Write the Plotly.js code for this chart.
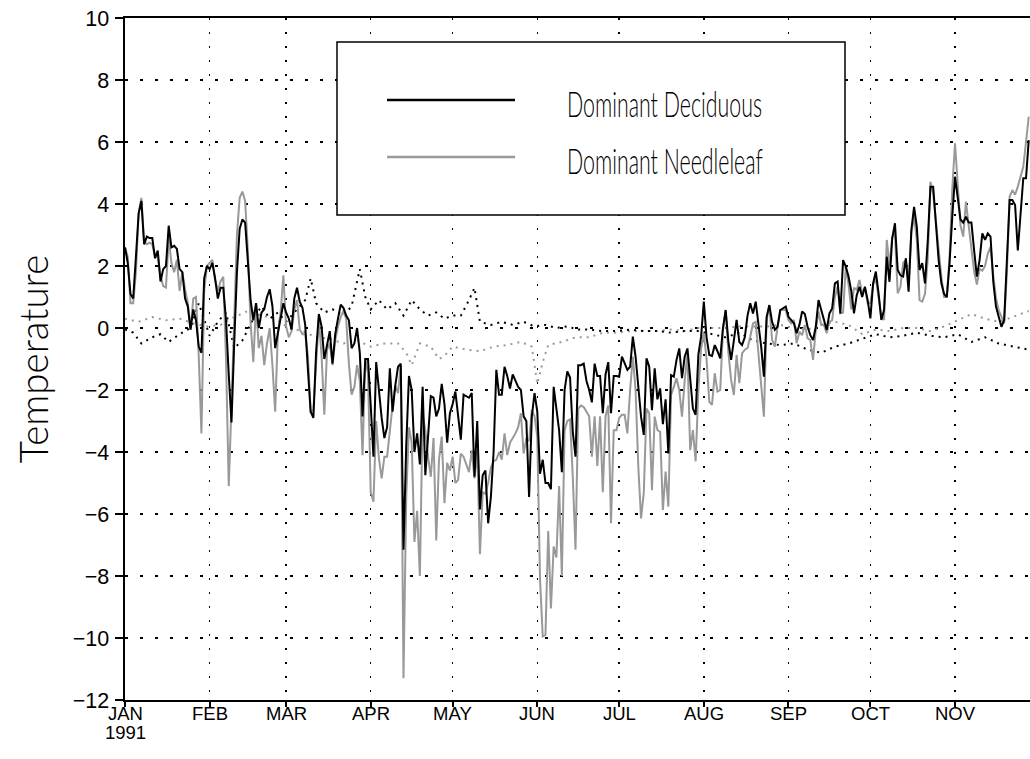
<!DOCTYPE html>
<html>
<head>
<meta charset="utf-8">
<script src="https://cdn.plot.ly/plotly-3.0.1.min.js"></script>
<style>
  html, body { margin: 0; padding: 0; background: #ffffff; }
  #chart { width: 1030px; height: 759px; }
</style>
</head>
<body>
<div id="chart"></div>
<script>
// Daily series, one value per day starting 1 Jan 1991
const deciduous = [
  2.6, 2.1, 1.1, 0.95, 2.3, 3.7, 4.1, 2.7, 2.95, 2.9,
  2.9, 2.25, 2.5, 1.5, 1.9, 2.0, 3.3, 2.6, 2.65, 2.55,
  1.9, 1.8, 0.95, 0.7, -0.05, 0.6, 0.25, -0.6, -0.8, 1.6,
  2.0, 1.9, 2.1, 1.6, 0.95, 1.3, 1.3, 0.25, -1.5, -3.05,
  -0.5, 1.8, 3.2, 3.5, 3.4, 2.3, 0.9, 0.25, 0.8, 0.0,
  0.5, 0.6, 1.0, 1.25, 0.7, -0.65, -0.2, 0.25, 0.8, 0.5,
  0.3, -0.05, 0.95, 1.3, 0.85, 0.65, 0.1, -1.35, -2.7, -2.9,
  -0.75, 0.45, 0.05, -1.0, -0.5, -0.1, -1.15, -0.2, 0.3, 0.75,
  0.65, 0.4, 0.25, -0.65, -0.5, 0.0, -0.8, -2.85, -1.0, -1.0,
  -2.5, -4.15, -1.1, -2.0, -2.9, -3.55, -3.2, -1.3, -2.7, -1.85,
  -1.25, -1.15, -7.15, -3.8, -1.55, -2.0, -4.0, -3.4, -4.4, -1.9,
  -4.75, -3.5, -2.2, -2.25, -2.85, -2.6, -1.8, -2.45, -3.7, -2.75,
  -2.45, -2.05, -2.9, -3.6, -2.15, -2.2, -2.25, -2.1, -4.8, -3.0,
  -5.85, -4.75, -4.6, -6.3, -5.45, -4.0, -1.35, -2.15, -2.15, -1.25,
  -1.55, -1.95, -1.5, -1.7, -1.9, -2.0, -2.85, -3.0, -5.45, -2.85,
  -2.1, -2.7, -4.7, -4.25, -5.0, -5.0, -5.2, -1.9, -2.55, -3.3,
  -4.65, -2.0, -1.4, -1.6, -3.35, -4.15, -1.2, -1.2, -1.15, -1.7,
  -2.0, -2.4, -1.15, -1.55, -1.55, -2.75, -1.5, -1.1, -2.75, -1.55,
  -1.55, -1.57, -0.92, -1.14, -1.35, -1.25, -0.28, -0.92, -2.0, -2.86,
  -3.45, -0.98, -1.25, -2.65, -1.3, -2.3, -1.95, -3.1, -2.3, -4.05,
  -1.52, -1.57, -1.03, -0.66, -1.62, -0.92, -0.66, -1.6, -2.6, -2.8,
  -0.86, -0.28, 0.85, -0.3, -0.87, -0.9, -0.55, -0.75, -0.98, 0.0,
  0.58, -0.45, -1.03, -0.4, 0.26, -0.45, -0.55, -0.3, 0.4, 0.8,
  0.47, 0.85, 0.1, -0.6, -1.57, 0.36, 0.74, 0.2, -0.06, 0.04,
  0.58, 0.65, 0.69, 0.36, 0.26, 0.15, -0.17, 0.1, 0.53, 0.45,
  0.04, -0.23, -0.39, 0.04, 0.9, 0.58, 0.2, -0.06, 0.47, 0.63,
  1.44, 1.5, 0.47, 2.19, 1.98, 1.66, 1.2, 0.47, 1.06, 1.33,
  1.0, 1.33, 0.9, 0.31, 1.44, 1.82, 1.12, 0.26, 0.58, 2.3,
  1.49, 2.89, 3.38, 1.87, 1.7, 1.66, 2.25, 1.17, 3.16, 3.91,
  3.27, 1.87, 2.09, 1.44, 2.8, 4.56, 4.56, 3.48, 2.19, 1.44,
  1.1, 1.0, 2.1, 3.6, 4.88, 4.2, 3.5, 3.4, 3.59, 3.4,
  3.4, 2.5, 1.66, 2.2, 3.05, 2.84, 3.05, 2.95, 1.5, 0.69,
  0.37, 0.04, 0.26, 2.3, 4.13, 4.13, 3.97, 2.5, 3.7, 4.83,
  4.83, 6.06
];

const needleleaf = [
  2.6, 2.3, 0.8, 0.8, 1.8, 3.7, 4.2, 2.8, 2.7, 2.75,
  2.7, 2.3, 2.3, 1.7, 1.35, 1.3, 2.9, 2.1, 1.8, 2.2,
  1.2, 1.8, 1.25, 0.8, -0.05, 0.95, 1.0, -0.9, -3.4, 1.2,
  2.0, 2.1, 2.2, 1.55, 1.2, 1.5, 1.65, -1.0, -5.1, -2.5,
  0.35, 3.0, 4.2, 4.4, 4.1, 2.5, 0.15, -1.1, 0.8, -0.65,
  -0.25, -1.2, -0.5, 0.0, -1.2, -2.7, -0.15, 0.5, 1.7, 0.05,
  -0.3, -0.1, 0.6, 0.9, -0.05, -0.2, -0.2, -0.9, -2.7, -2.65,
  -1.15, 0.3, -0.9, -2.8, -0.7, -0.5, -1.2, -0.4, 0.05, 0.35,
  0.55, 0.3, -1.15, -2.15, -1.9, -1.2, -1.7, -4.1, -1.0, -1.45,
  -5.3, -5.6, -3.0, -4.2, -4.85, -4.15, -4.15, -3.3, -2.5, -1.85,
  -2.1, -1.2, -11.3, -5.45, -3.2, -3.7, -6.9, -5.9, -8.0, -2.75,
  -3.3, -4.15, -4.8, -3.55, -6.85, -4.25, -3.5, -5.65, -4.35, -4.6,
  -4.15, -5.0, -4.9, -4.05, -4.15, -4.4, -4.65, -3.95, -4.85, -3.95,
  -7.3, -5.3, -5.35, -5.0, -4.5, -4.3, -4.25, -4.0, -4.25, -3.4,
  -4.1, -3.7, -3.55, -3.4, -3.2, -2.75, -4.05, -3.55, -3.65, -2.65,
  -2.85, -3.5, -8.1, -9.95, -9.9, -6.55, -9.05, -7.05, -7.4, -5.1,
  -8.0, -3.3, -3.0, -2.95, -4.8, -7.15, -2.6, -2.5, -2.55, -2.7,
  -2.85, -4.15, -2.85, -4.45, -2.85, -5.3, -2.85, -2.5, -6.3, -3.3,
  -3.3, -2.9, -2.8, -2.8, -3.4, -2.0, -0.92, -2.0, -4.47, -6.14,
  -5.33, -2.6, -2.75, -5.23, -2.86, -3.29, -3.35, -5.87, -4.63, -5.76,
  -2.16, -1.9, -1.62, -2.0, -2.86, -1.68, -0.82, -3.94, -3.29, -4.3,
  -2.0, -0.66, -0.17, -1.0, -2.38, -2.48, -1.46, -2.05, -2.0, -0.06,
  0.58, -0.8, -1.68, -2.16, -0.87, -1.78, -0.82, -0.7, -0.65, -0.28,
  0.15, 0.2, -0.8, -1.8, -2.86, 0.25, 0.74, -0.38, -0.6, 0.04,
  0.58, 0.58, 0.58, 0.26, 0.15, 0.26, -0.49, -0.12, -0.23, 0.1,
  -0.33, -0.39, -1.03, -0.06, 0.53, 0.1, 0.1, -0.17, 0.2, 0.25,
  1.0, 1.33, 0.47, 0.5, 1.98, 1.4, 0.6, 1.3, 1.23, 1.55,
  1.12, 1.3, 0.8, 0.8, 1.39, 1.6, 1.0, 0.37, 0.26, 2.84,
  2.0, 2.95, 3.05, 1.12, 1.33, 2.1, 2.2, 1.44, 3.05, 3.6,
  2.84, 0.9, 0.85, 1.1, 2.2, 4.72, 4.34, 3.4, 2.4, 1.65,
  1.0, 1.0, 2.3, 4.5, 5.96, 4.6, 3.3, 2.95, 4.08, 3.3,
  2.5, 1.82, 1.4, 1.9, 1.85, 2.0, 2.4, 2.62, 1.7, 0.96,
  0.58, 0.37, 0.15, 1.8, 4.24, 4.45, 4.3, 4.56, 4.9, 5.2,
  6.0, 6.82
];

// Dotted companion curves (day of year, value)
const dottedBlackDays = [0, 3, 6, 10, 13, 16, 20, 24, 27, 29, 31, 34, 37, 40, 43, 47, 50, 53, 56, 59,
  62, 66, 68, 70, 73, 76, 80, 83, 86, 88, 90, 93, 96, 99, 102, 105, 108, 111, 114, 117,
  120, 123, 126, 128, 130, 134, 138, 142, 146, 150, 154, 158, 162, 166, 170, 175, 180, 185, 190, 195,
  200, 205, 210, 215, 220, 225, 230, 235, 240, 245, 250, 255, 260, 265, 270, 275, 280, 285, 290, 295,
  300, 305, 310, 315, 320, 325, 331];
const dottedBlackVals = [-0.05, -0.15, -0.5, -0.3, -0.2, -0.45, -0.2, 0.0, 0.8, 0.3, -0.25, 0.2, 0.5, -0.65, -0.4, 0.3, 0.7, 0.3, 0.5, 0.2,
  0.5, 0.9, 1.6, 0.8, 0.5, 0.6, 0.4, 0.7, 1.9, 1.0, 0.6, 0.9, 0.6, 0.8, 0.4, 0.9, 0.6, 0.4, 0.5, 0.3,
  0.4, 0.4, 0.9, 1.3, 0.2, 0.1, 0.2, 0.1, 0.2, 0.05, 0.1, 0.0, 0.05, -0.05, -0.05, -0.1, -0.1, -0.05, -0.1, -0.1,
  -0.15, -0.1, -0.1, -0.2, -0.3, -0.15, -0.4, -0.5, -0.55, -0.5, -0.7, -0.8, -0.6, -0.5, -0.35, -0.2, -0.3, -0.25, -0.15, -0.25,
  -0.3, -0.2, -0.45, -0.3, -0.5, -0.6, -0.7];

const dottedGrayDays = [0, 5, 10, 15, 20, 25, 30, 35, 40, 45, 50, 55, 60, 65, 70, 75, 80, 85, 90, 95,
  100, 103, 105, 108, 112, 115, 117, 120, 125, 130, 135, 140, 145, 149, 151, 153, 155, 160, 165, 170,
  175, 180, 185, 190, 195, 200, 205, 210, 215, 220, 225, 230, 235, 240, 245, 250, 255, 260, 265, 270,
  275, 280, 285, 290, 295, 300, 305, 310, 315, 320, 325, 331];
const dottedGrayVals = [0.3, 0.2, 0.35, 0.25, 0.3, 0.15, 0.05, 0.1, 0.35, 0.55, 0.4, 0.3, 0.0, -0.1, -0.3, -0.35, -0.5, -0.4, -0.6, -0.5,
  -0.5, -0.8, -1.2, -0.5, -0.6, -1.0, -0.9, -0.6, -0.7, -0.75, -0.6, -0.55, -0.45, -0.6, -1.8, -1.1, -0.55, -0.45, -0.3, -0.3,
  -0.15, -0.15, -0.1, -0.1, -0.1, -0.05, -0.1, 0.0, 0.0, 0.0, 0.05, 0.05, 0.05, 0.1, 0.0, -0.05, 0.1, 0.2, 0.1, -0.2,
  -0.05, -0.1, 0.0, 0.0, -0.1, 0.05, 0.25, 0.45, 0.3, 0.2, 0.35, 0.55];

const monthTicks = ['1991-01-01', '1991-02-01', '1991-03-01', '1991-04-01', '1991-05-01', '1991-06-01',
  '1991-07-01', '1991-08-01', '1991-09-01', '1991-10-01', '1991-11-01'];
const monthLabels = ['JAN', 'FEB', 'MAR', 'APR', 'MAY', 'JUN', 'JUL', 'AUG', 'SEP', 'OCT', 'NOV'];
const yearLabel = '1991';
const yTicks = [-12, -10, -8, -6, -4, -2, 0, 2, 4, 6, 8, 10];
const seriesNames = ['Dominant Deciduous', 'Dominant Needleleaf'];
const seriesColors = ['#000000', '#999999'];

const DAY_MS = 86400000;
const T0 = Date.UTC(1991, 0, 1);
function dayToDate(d) {
  return new Date(T0 + d * DAY_MS).toISOString().slice(0, 19).replace('T', ' ');
}
const dailyDates = deciduous.map((_, i) => dayToDate(i));

// Plot area in pixels (for placing the legend box in paper units)
const W = 1030, H = 759, ML = 125, MR = 0, MT = 18, MB = 59;
const PW = W - ML - MR, PH = H - MT - MB;
const px = x => (x - ML) / PW;
const py = y => (H - MB - y) / PH;

const traces = [
  { x: dottedGrayDays.map(dayToDate), y: dottedGrayVals, mode: 'lines',
    line: { color: seriesColors[1], width: 2, dash: '2px,5px' }, hoverinfo: 'skip' },
  { x: dottedBlackDays.map(dayToDate), y: dottedBlackVals, mode: 'lines',
    line: { color: seriesColors[0], width: 2, dash: '2px,5px' }, hoverinfo: 'skip' },
  { x: dailyDates, y: needleleaf, name: seriesNames[1], mode: 'lines',
    line: { color: seriesColors[1], width: 2 } },
  { x: dailyDates, y: deciduous, name: seriesNames[0], mode: 'lines',
    line: { color: seriesColors[0], width: 2 } }
];

const legendFont = { family: 'Lato, sans-serif', size: 35, weight: 300, color: '#000' };
const tickFont = { family: 'Liberation Sans, Arial, sans-serif', size: 18.5, color: '#000' };

// Month names sit on the date axis; the year goes under the first month
const monthAnnotations = monthTicks.map((d, i) => ({
  xref: 'x', yref: 'paper', x: d, y: py(713), xanchor: 'center', yanchor: 'middle',
  text: monthLabels[i], showarrow: false, font: tickFont
}));

const layout = {
  width: W, height: H,
  margin: { l: ML, r: MR, t: MT, b: MB, pad: 0 },
  paper_bgcolor: '#ffffff', plot_bgcolor: '#ffffff',
  showlegend: false,
  font: { family: 'Liberation Sans, Arial, sans-serif', color: '#000', size: 19 },
  xaxis: {
    type: 'date',
    range: [dayToDate(0), dayToDate(331.46)],
    tickmode: 'array', tickvals: monthTicks, showticklabels: false,
    ticks: 'outside', ticklen: 5, tickwidth: 2, tickcolor: '#000',
    showline: true, linecolor: '#000', linewidth: 2, mirror: true,
    showgrid: true, gridcolor: '#000', gridwidth: 1.5, griddash: '2px,12px',
    zeroline: false, fixedrange: true
  },
  yaxis: {
    range: [-12, 10],
    tickmode: 'array', tickvals: yTicks,
    ticks: 'outside', ticklen: 8, tickwidth: 2, tickcolor: '#000',
    showline: true, linecolor: '#000', linewidth: 2.5,
    showgrid: true, gridcolor: '#000', gridwidth: 1.5, griddash: '3px,12px',
    zeroline: false, tickfont: { family: 'Liberation Sans, Arial, sans-serif', size: 21.5, color: '#000' },
    ticklabelstandoff: 1,
    title: { text: 'Temperature', font: { family: 'Lato, sans-serif', size: 38.5, weight: 300, color: '#000' }, standoff: 12 },
    fixedrange: true
  },
  shapes: [
    { type: 'rect', xref: 'paper', yref: 'paper', layer: 'above',
      x0: px(337), x1: px(845), y0: py(215), y1: py(42),
      line: { color: '#000', width: 1.5 }, fillcolor: '#ffffff' },
    { type: 'line', xref: 'paper', yref: 'paper', layer: 'above',
      x0: px(387), x1: px(515), y0: py(100), y1: py(100),
      line: { color: seriesColors[0], width: 2.5 } },
    { type: 'line', xref: 'paper', yref: 'paper', layer: 'above',
      x0: px(387), x1: px(515), y0: py(157), y1: py(157),
      line: { color: seriesColors[1], width: 2.5 } }
  ],
  annotations: [
    { xref: 'paper', yref: 'paper', x: px(565), y: py(103), xanchor: 'left', yanchor: 'middle',
      text: seriesNames[0], showarrow: false, font: legendFont },
    { xref: 'paper', yref: 'paper', x: px(565), y: py(160), xanchor: 'left', yanchor: 'middle',
      text: seriesNames[1], showarrow: false, font: legendFont },
    { xref: 'x', yref: 'paper', x: monthTicks[0], y: py(732), xanchor: 'center', yanchor: 'middle',
      text: yearLabel, showarrow: false, font: tickFont }
  ].concat(monthAnnotations)
};

// Legend captions use a narrow, tall lettering: squeeze them horizontally
// about their left edge to the width of the caption column.
const LEGEND_TEXT_WIDTH = 195;
function condenseLegendText(gd) {
  const texts = [0, 1].map(i =>
    gd.querySelector('.annotation[data-index="' + i + '"] text.annotation-text'));
  if (texts.some(t => !t)) return;
  const sx = LEGEND_TEXT_WIDTH / texts[0].getBBox().width;
  texts.forEach(t => {
    const bb = t.getBBox();
    const prev = t.getAttribute('transform') || '';
    t.setAttribute('transform',
      prev + ' translate(' + bb.x + ' 0) scale(' + sx + ' 1) translate(' + (-bb.x) + ' 0)');
  });
}

Plotly.newPlot('chart', traces, layout, { displayModeBar: false, staticPlot: true })
  .then(condenseLegendText);
</script>
</body>
</html>
